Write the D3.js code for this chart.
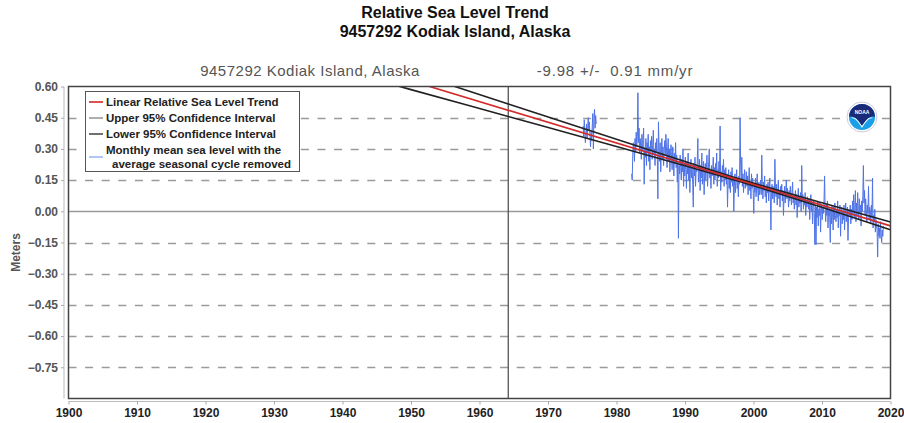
<!DOCTYPE html>
<html>
<head>
<meta charset="utf-8">
<script src="https://cdn.jsdelivr.net/npm/d3@7"></script>
<style>
  body { margin: 0; background: #fff; }
  svg { display: block; font-family: "Liberation Sans", Arial, sans-serif; }
</style>
</head>
<body>
<div id="chart"></div>
<script>
// ---- data ----
const titleLines = ['Relative Sea Level Trend', '9457292 Kodiak Island, Alaska'];
const stationName = '9457292 Kodiak Island, Alaska';
const trendLabel = '-9.98 +/-  0.91 mm/yr';
const yTicks = [0.60, 0.45, 0.30, 0.15, 0.00, -0.15, -0.30, -0.45, -0.60, -0.75];
const xTicks = [1900, 1910, 1920, 1930, 1940, 1950, 1960, 1970, 1980, 1990, 2000, 2010, 2020];
const legendLabels = ['Linear Relative Sea Level Trend', 'Upper 95% Confidence Interval',
  'Lower 95% Confidence Interval', 'Monthly mean sea level with the', 'average seasonal cycle removed'];
const quakeYear = 1964.2;

// trend and confidence band, [year, metres]
const trendLine = [[1900, 1.125], [2020, -0.070]];
const upperCI = [[1930, 0.885], [1940, 0.777], [1950, 0.669], [1964.2, 0.516], [1980, 0.346],
  [1990, 0.239], [1999, 0.145], [2010, 0.041], [2020, -0.051]];
const lowerCI = [[1930, 0.769], [1940, 0.677], [1950, 0.585], [1964.2, 0.456], [1980, 0.312],
  [1990, 0.219], [1999, 0.133], [2010, 0.019], [2020, -0.089]];

// monthly mean sea level, first record Feb 1975 - Jan 1977
const early = { year: 1975, month: 2, values: [
  0.41, 0.36, 0.44, 0.38, 0.33, 0.37, 0.42, 0.35, 0.40, 0.45, 0.39,
  0.43, 0.36, 0.31, 0.38, 0.34, 0.41, 0.47, 0.30, 0.44, 0.49, 0.40, 0.46,
  0.42] };
// second record Mar 1982 - Dec 2018
const late = { year: 1982, month: 3, values: [
  0.18, 0.15, 0.27, 0.33, 0.30, 0.24, 0.35, 0.29, 0.38, 0.31,
  0.36, 0.57, 0.33, 0.40, 0.28, 0.35, 0.31, 0.25, 0.37, 0.29, 0.34, 0.40,
  0.13, 0.30, 0.26, 0.35, 0.22, 0.33, 0.28, 0.37, 0.24, 0.31, 0.20, 0.34,
  0.29, 0.36, 0.25, 0.32, 0.39, 0.27, 0.30, 0.22, 0.33, 0.28, 0.35, 0.26,
  0.06, 0.43, 0.30, 0.24, 0.33, 0.19, 0.28, 0.35, 0.25, 0.31, 0.22, 0.29,
  0.34, 0.27, 0.37, 0.31, 0.21, 0.29, 0.35, 0.24, 0.30, 0.19, 0.27, 0.32,
  0.25, 0.20, 0.31, 0.26, 0.17, 0.28, 0.23, 0.33, 0.21, 0.27, 0.14, 0.24,
  -0.13, 0.22, 0.18, 0.27, 0.21, 0.15, 0.25, 0.19, 0.30, 0.12, 0.23, 0.17,
  0.26, 0.20, 0.11, 0.24, 0.18, 0.28, 0.15, 0.22, 0.09, 0.20, 0.25, 0.16,
  0.21, 0.13, 0.02, 0.23, 0.17, 0.26, 0.12, 0.20, 0.19, 0.24, 0.35, 0.14,
  0.18, 0.25, 0.10, 0.22, 0.16, 0.28, 0.13, 0.20, 0.24, 0.08, 0.19, 0.23,
  0.15, 0.21, 0.27, 0.12, 0.18, 0.24, 0.30, 0.16, 0.20, 0.11, 0.22, 0.17,
  0.19, 0.26, 0.13, 0.21, 0.15, 0.23, 0.18, 0.28, 0.12, 0.20, 0.16, 0.24,
  0.17, 0.41, 0.10, 0.19, 0.14, 0.22, 0.18, 0.25, 0.12, 0.20, 0.15, 0.21,
  0.13, 0.18, 0.02, 0.15, 0.20, 0.11, 0.17, 0.09, 0.19, 0.14, 0.21, 0.12,
  0.16, 0.00, 0.12, 0.18, 0.09, 0.15, 0.20, 0.11, 0.14, 0.07, 0.17, 0.13,
  0.45, 0.22, 0.15, 0.26, 0.12, 0.18, 0.09, 0.16, 0.20, 0.11, 0.14, 0.19,
  0.12, 0.17, 0.08, 0.15, 0.21, 0.10, 0.14, 0.06, 0.18, 0.11, 0.16, 0.09,
  -0.01, 0.13, 0.09, 0.16, 0.07, 0.12, 0.18, 0.10, 0.05, 0.14, 0.08, 0.11,
  0.15, 0.08, 0.27, 0.12, 0.06, 0.14, 0.10, 0.17, 0.07, 0.11, 0.04, 0.13,
  0.09, 0.14, 0.05, 0.11, 0.16, 0.07, -0.09, 0.10, 0.13, 0.06, 0.12, 0.08,
  0.04, 0.25, 0.11, 0.07, 0.13, 0.03, 0.09, 0.15, 0.06, 0.10, 0.02, 0.12,
  0.08, 0.13, 0.05, 0.10, -0.02, 0.07, 0.12, 0.04, 0.09, 0.15, 0.06, 0.11,
  0.07, 0.02, 0.10, 0.05, 0.12, 0.08, 0.03, 0.09, 0.14, 0.04, 0.07, 0.01,
  0.06, 0.10, 0.03, 0.08, -0.03, 0.05, 0.11, 0.02, 0.07, 0.04, 0.09, 0.00,
  0.22, 0.05, 0.08, 0.01, 0.06, 0.03, 0.09, -0.02, 0.05, 0.02, 0.07, 0.04,
  0.01, 0.06, -0.04, 0.03, 0.08, 0.00, 0.04, -0.06, 0.02, 0.05, -0.01, -0.16,
  0.03, -0.16, 0.02, -0.03, 0.05, -0.07, 0.01, -0.02, 0.04, -0.10, 0.00, 0.03,
  -0.04, 0.02, -0.01, 0.04, 0.17, 0.01, -0.05, 0.03, -0.02, 0.05, -0.08, 0.00,
  0.02, -0.03, -0.15, 0.01, -0.06, 0.03, -0.01, -0.09, 0.02, -0.04, 0.04, -0.02,
  -0.05, 0.01, -0.03, 0.05, -0.08, 0.00, -0.02, 0.03, -0.12, -0.01, 0.02, -0.06,
  0.00, -0.04, 0.03, -0.09, -0.01, 0.04, -0.05, -0.02, 0.02, -0.14, -0.03, 0.01,
  -0.02, 0.03, -0.06, 0.01, -0.04, 0.05, -0.01, 0.08, -0.03, 0.02, 0.10, -0.05,
  0.04, -0.02, 0.09, 0.01, -0.04, 0.06, -0.01, 0.03, -0.07, 0.05, 0.00, 0.07,
  0.22, 0.04, 0.10, -0.02, 0.06, 0.01, -0.05, 0.03, -0.01, 0.12, -0.04, 0.02,
  0.00, -0.06, 0.03, -0.03, 0.16, -0.08, -0.02, -0.05, 0.01, -0.10, -0.04, -0.07,
  -0.09, -0.22, -0.06, -0.12, -0.08, -0.13, -0.05, -0.11, -0.15, -0.09, -0.12, -0.07] };

// ---- layout ----
const width = 904, height = 423;
const plot = { left: 68.5, right: 890.5, top: 86.5, bottom: 398.5 };

const svg = d3.select('#chart').append('svg')
  .attr('width', width)
  .attr('height', height);

const x = d3.scaleLinear().domain([1900, 2020]).range([plot.left, plot.right]);
const y = d3.scaleLinear().domain([-0.9, 0.6]).range([plot.bottom, plot.top]);

// titles
svg.append('g').selectAll('text')
  .data(titleLines)
  .enter().append('text')
  .attr('x', 455)
  .attr('y', (d, i) => 18 + i * 19)
  .attr('text-anchor', 'middle')
  .style('font-size', '16px')
  .style('font-weight', 'bold')
  .style('fill', '#111')
  .text(d => d);

svg.append('text')
  .attr('x', 310).attr('y', 76)
  .attr('text-anchor', 'middle')
  .style('font-size', '15px')
  .style('fill', '#555')
  .style('letter-spacing', '0.5px')
  .text(stationName);

svg.append('text')
  .attr('x', 615).attr('y', 76)
  .attr('text-anchor', 'middle')
  .style('font-size', '15px')
  .style('fill', '#555')
  .style('white-space', 'pre')
  .style('letter-spacing', '0.8px')
  .text(trendLabel);

// axes (light grey, offset from the plot frame)
const yAxis = d3.axisLeft(y).tickValues(yTicks).tickFormat(d3.format('.2f')).tickSize(3).tickPadding(3);
const yAxisG = svg.append('g')
  .attr('transform', `translate(${plot.left - 4.5},0)`)
  .call(yAxis);
yAxisG.select('.domain').attr('stroke', '#bbb').attr('d', `M0,${plot.top}V${plot.bottom}`);
yAxisG.selectAll('.tick line').attr('stroke', '#aaa');
yAxisG.selectAll('.tick text')
  .style('font-size', '12px').style('font-weight', 'bold').style('fill', '#555')
  .style('font-family', '"Liberation Sans", Arial, sans-serif')
  .text(d => d3.format('.2f')(d).replace('-', '- '));

const xAxis = d3.axisBottom(x).tickValues(xTicks).tickFormat(d3.format('d')).tickSize(3).tickPadding(4);
const xAxisG = svg.append('g')
  .attr('transform', `translate(0,${plot.bottom + 3})`)
  .call(xAxis);
xAxisG.select('.domain').attr('stroke', '#bbb').attr('d', `M${plot.left},0H${plot.right}`);
xAxisG.selectAll('.tick line').attr('stroke', '#aaa');
xAxisG.selectAll('.tick text')
  .style('font-size', '12px').style('font-weight', 'bold').style('fill', '#222')
  .style('font-family', '"Liberation Sans", Arial, sans-serif');

svg.append('text')
  .attr('transform', `translate(20,${(plot.top + plot.bottom) / 2 + 10}) rotate(-90)`)
  .attr('text-anchor', 'middle')
  .style('font-size', '12px').style('font-weight', 'bold').style('fill', '#555')
  .text('Meters');

// grid lines
const grid = svg.append('g');
grid.selectAll('line.dash')
  .data(yTicks.filter(d => d !== 0 && d !== 0.6))
  .enter().append('line')
  .attr('x1', plot.left).attr('x2', plot.right)
  .attr('y1', d => Math.round(y(d)) + 0.5).attr('y2', d => Math.round(y(d)) + 0.5)
  .attr('stroke', '#9a9a9a').attr('stroke-width', 1.5)
  .attr('stroke-dasharray', '8,8.6');
grid.append('line')
  .attr('x1', plot.left).attr('x2', plot.right)
  .attr('y1', Math.round(y(0)) + 0.5).attr('y2', Math.round(y(0)) + 0.5)
  .attr('stroke', '#9a9a9a').attr('stroke-width', 1.5);
grid.append('line')
  .attr('x1', x(quakeYear)).attr('x2', x(quakeYear))
  .attr('y1', plot.top).attr('y2', plot.bottom)
  .attr('stroke', '#555').attr('stroke-width', 1.3);

// clip
svg.append('clipPath').attr('id', 'clip')
  .append('rect')
  .attr('x', plot.left).attr('y', plot.top)
  .attr('width', plot.right - plot.left).attr('height', plot.bottom - plot.top);

const marks = svg.append('g').attr('clip-path', 'url(#clip)');

// monthly series
const toPoints = seg => seg.values.map((v, i) => [seg.year + (seg.month - 1 + i + 0.5) / 12, v]);
const line = d3.line().x(d => x(d[0])).y(d => y(d[1]));
marks.selectAll('path.msl')
  .data([toPoints(early), toPoints(late)])
  .enter().append('path')
  .attr('class', 'msl')
  .attr('d', line)
  .attr('fill', 'none')
  .attr('stroke', '#4f73e6')
  .attr('stroke-width', 1)
  .attr('stroke-linejoin', 'round');

// confidence lines and trend
const smooth = d3.line().x(d => x(d[0])).y(d => y(d[1])).curve(d3.curveMonotoneX);
marks.append('path').attr('d', smooth(upperCI))
  .attr('fill', 'none').attr('stroke', '#222').attr('stroke-width', 1.6);
marks.append('path').attr('d', smooth(lowerCI))
  .attr('fill', 'none').attr('stroke', '#222').attr('stroke-width', 1.6);
marks.append('path').attr('d', line(trendLine))
  .attr('fill', 'none').attr('stroke', '#d42a2a').attr('stroke-width', 1.6);

// frame
svg.append('rect')
  .attr('x', plot.left).attr('y', plot.top)
  .attr('width', plot.right - plot.left).attr('height', plot.bottom - plot.top)
  .attr('fill', 'none').attr('stroke', '#444').attr('stroke-width', 1.5);

// legend
const legend = svg.append('g');
legend.append('rect')
  .attr('x', 85.5).attr('y', 91.5).attr('width', 214).attr('height', 80)
  .attr('fill', '#fff').attr('stroke', '#555').attr('stroke-width', 1);
const swatches = [
  { y: 102, color: '#d42a2a', w: 1.6 },
  { y: 118, color: '#777', w: 1.2 },
  { y: 134, color: '#333', w: 1.4 },
  { y: 157, color: '#7d9ef0', w: 1.2 }
];
legend.selectAll('line')
  .data(swatches)
  .enter().append('line')
  .attr('x1', 89).attr('x2', 103)
  .attr('y1', d => d.y).attr('y2', d => d.y)
  .attr('stroke', d => d.color).attr('stroke-width', d => d.w);
legend.selectAll('text')
  .data(legendLabels)
  .enter().append('text')
  .attr('x', (d, i) => i === 4 ? 112 : 106)
  .attr('y', (d, i) => [106, 122, 138, 154, 168][i])
  .style('font-size', '11.5px').style('font-weight', 'bold').style('fill', '#222')
  .text(d => d);

// NOAA emblem
const logo = svg.append('g').attr('transform', 'translate(862,117)');
logo.append('circle').attr('r', 15).attr('fill', '#fff').attr('stroke', '#ccd').attr('stroke-width', 1);
logo.append('circle').attr('r', 13).attr('fill', '#1aa0e8');
logo.append('path')
  .attr('d', 'M-13,0 A13,13 0 0 1 13,0 C8,-2 4,4 0,9 C-4,4 -8,-2 -13,0 Z')
  .attr('fill', '#1b2a78');
logo.append('path')
  .attr('d', 'M-11,1 C-6,-1 -3,5 0,9 C3,5 6,-1 11,1 C6,1 3,6 0,11 C-3,6 -6,1 -11,1 Z')
  .attr('fill', '#fff');
logo.append('text')
  .attr('y', -3).attr('text-anchor', 'middle')
  .style('font-size', '5px').style('font-weight', 'bold').style('fill', '#fff')
  .text('NOAA');
</script>
</body>
</html>
